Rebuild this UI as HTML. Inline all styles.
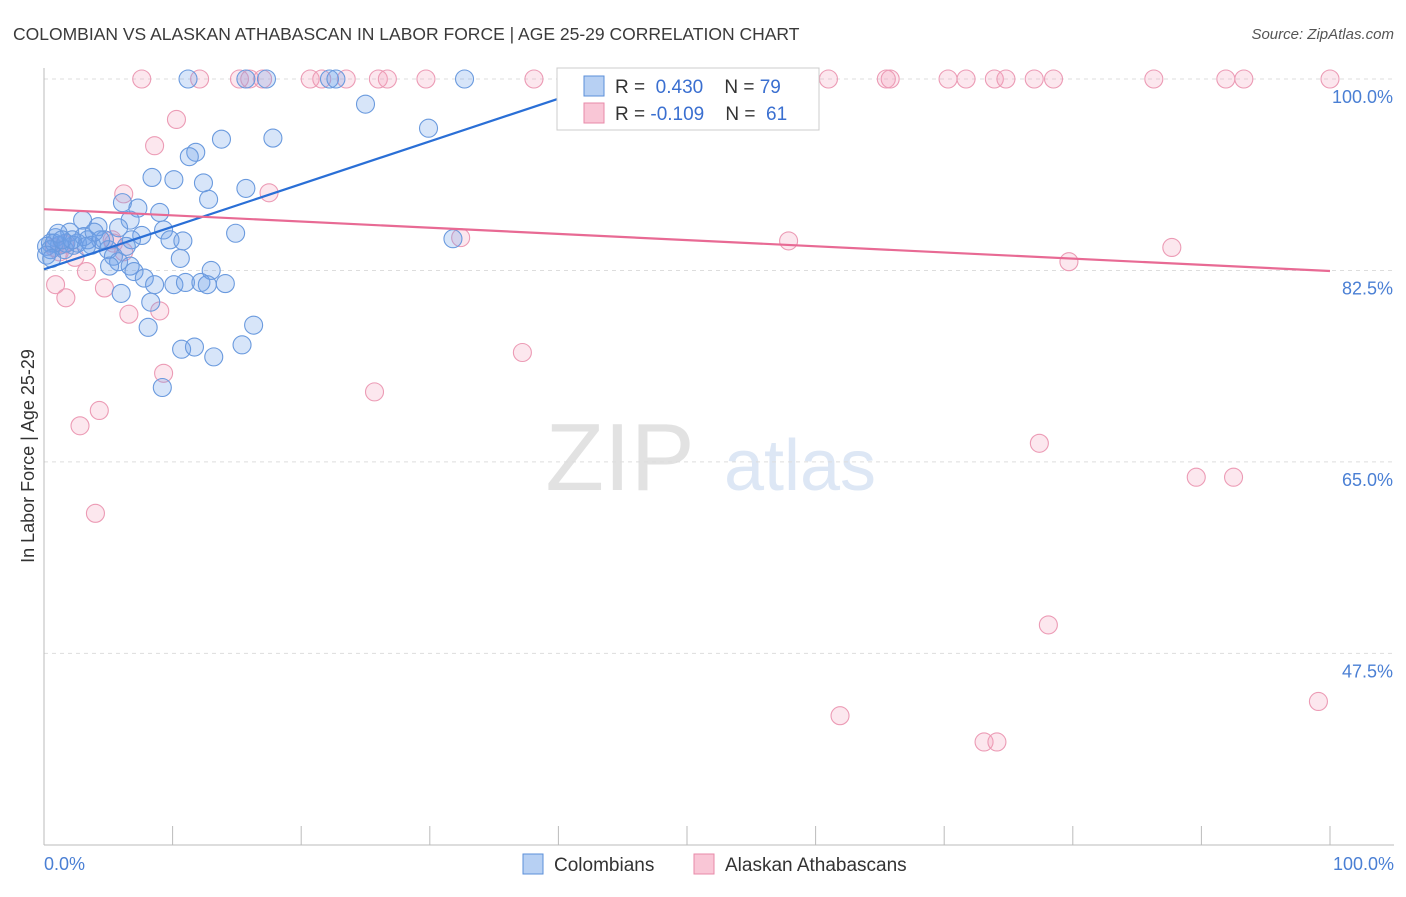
<!DOCTYPE html>
<html><head><meta charset="utf-8"><style>
body{margin:0;background:#fff;font-family:"Liberation Sans",sans-serif}
svg text{font-family:"Liberation Sans",sans-serif}
</style></head><body>
<svg id="chart" width="1406" height="892">
<text x="13" y="40" font-size="17.5" fill="#3a3a3a">COLOMBIAN VS ALASKAN ATHABASCAN IN LABOR FORCE | AGE 25-29 CORRELATION CHART</text>
<text x="1394" y="39" font-size="15" fill="#555" text-anchor="end" font-style="italic">Source: ZipAtlas.com</text>
<text x="620" y="490" font-size="96" fill="#e2e2e2" font-family="Liberation Serif" text-anchor="middle">ZIP</text>
<text x="800" y="490" font-size="72" fill="#dde7f5" text-anchor="middle">atlas</text>
<g id="grid"></g><g id="axes"></g><g id="pts"></g><g id="trend"></g>
<text transform="translate(34,456) rotate(-90)" font-size="18" fill="#333" text-anchor="middle">In Labor Force | Age 25-29</text>
<text x="44" y="870" font-size="18" fill="#4a7fd4">0.0%</text>
<text x="1394" y="870" font-size="18" fill="#4a7fd4" text-anchor="end">100.0%</text>
<g>
<rect x="557" y="68" width="262" height="62" fill="#fff" stroke="#ccc"/>
<rect x="584" y="76" width="20" height="20" fill="#b7d0f3" stroke="#5b8fd9"/>
<rect x="584" y="103" width="20" height="20" fill="#f9c6d6" stroke="#e88aa8"/>
<text x="615" y="93" font-size="19" fill="#333">R = <tspan fill="#3a6fd0">&#160;0.430</tspan>&#160;&#160;&#160; N = <tspan fill="#3a6fd0">79</tspan></text>
<text x="615" y="120" font-size="19" fill="#333">R = <tspan fill="#3a6fd0">-0.109</tspan>&#160;&#160;&#160; N = <tspan fill="#3a6fd0">&#160;61</tspan></text>
</g>
<g>
<rect x="523" y="854" width="20" height="20" fill="#b7d0f3" stroke="#5b8fd9"/>
<text x="554" y="871" font-size="19" fill="#333">Colombians</text>
<rect x="694" y="854" width="20" height="20" fill="#f9c6d6" stroke="#e88aa8"/>
<text x="725" y="871" font-size="19" fill="#333">Alaskan Athabascans</text>
</g>
</svg>
<script>
const yTicks=[100,82.5,65,47.5];
const yTickLabels=["100.0%","82.5%","65.0%","47.5%"];
const blueX=[11.2,15.7,17.3,22.2,22.7,32.7,25.0,29.9,13.8,17.8,11.8,11.3,8.4,10.1,12.4,15.7,12.8,6.1,7.3,9.0,3.0,6.7,4.2,5.8,9.3,14.9,7.6,0.9,2.0,3.4,4.7,6.8,9.8,10.8,1.2,2.3,3.7,0.5,0.2,5.0,0.5,1.6,5.4,10.6,5.8,6.7,5.1,7.0,13.0,7.8,8.6,10.1,11.0,12.2,12.7,14.1,6.0,8.3,16.3,8.1,10.7,11.7,15.4,13.2,9.2,31.8,0.8,1.7,2.6,4.4,3.1,3.9,1.1,0.2,0.6,2.2,1.4,3.3,6.4];
const blueY=[100,100,100,100,100,100,97.7,95.5,94.5,94.6,93.3,92.9,91.0,90.8,90.5,90.0,89.0,88.7,88.2,87.8,87.1,87.1,86.5,86.4,86.2,85.9,85.7,85.5,86.0,85.3,85.3,85.3,85.3,85.2,84.8,84.8,84.8,85.0,84.7,84.4,84.4,84.4,83.8,83.6,83.3,82.9,82.9,82.4,82.5,81.8,81.2,81.2,81.4,81.4,81.2,81.3,80.4,79.6,77.5,77.3,75.3,75.5,75.7,74.6,71.8,85.4,85.0,85.0,85.0,85.3,85.6,86.0,85.9,83.9,83.6,85.3,85.3,84.7,84.7];
const pinkX=[7.6,12.1,15.2,16.0,17.0,20.7,21.6,23.5,26.0,26.7,29.7,38.1,53.0,61.0,65.5,65.8,70.3,71.7,73.9,74.8,77.0,78.5,86.3,91.9,93.3,100,10.3,8.6,6.2,17.5,5.4,6.2,0.8,2.4,1.2,3.3,0.9,4.7,1.7,6.6,9.0,37.2,9.3,25.7,4.3,2.8,4.0,32.4,57.9,87.7,79.7,77.4,89.6,92.5,78.1,61.9,73.1,74.1,99.1,5.3,1.6];
const pinkY=[100,100,100,100,100,100,100,100,100,100,100,100,100,100,100,100,100,100,100,100,100,100,100,100,100,100,96.3,93.9,89.5,89.6,85.0,84.2,84.6,83.7,84.2,82.4,81.2,80.9,80.0,78.5,78.8,75.0,73.1,71.4,69.7,68.3,60.3,85.5,85.2,84.6,83.3,66.7,63.6,63.6,50.1,41.8,39.4,39.4,43.1,85.3,84.9];
const blueTrend=[82.6,0.39];
const pinkTrend=[88.1,-0.0565];
const NS="http://www.w3.org/2000/svg";
const xs=v=>44+v*12.86, ys=v=>79+(100-v)*10.94;
function mk(t,a,p){const e=document.createElementNS(NS,t);for(const k in a)e.setAttribute(k,a[k]);document.getElementById(p).appendChild(e);return e;}
yTicks.forEach((t,i)=>{
 const l=mk('line',{x1:44,x2:1394,y1:ys(t),y2:ys(t),stroke:'#ddd','stroke-dasharray':'4,4'},'grid');
 
 
 const tx=mk('text',{x:1393,y:ys(t)+24,'font-size':18,fill:'#4a7fd4','text-anchor':'end'},'grid');
 tx.textContent=yTickLabels[i];
 
 
});
const ax=mk('line',{x1:44,x2:44,y1:68,y2:845,stroke:'#bbb'},'axes');


const bx=mk('line',{x1:44,x2:1394,y1:845,y2:845,stroke:'#bbb'},'axes');


for(let i=0;i<=10;i++){const t=mk('line',{x1:xs(i*10),x2:xs(i*10),y1:826,y2:845,stroke:'#bbb'},'axes');
 
 }
function pts(X,Y,f,s,n){X.forEach((x,i)=>{const c=mk('circle',{cx:xs(x),cy:ys(Y[i]),r:9,fill:f,stroke:s,'stroke-width':1.1},'pts');
 
 });}
pts(pinkX,pinkY,'rgba(244,160,188,0.25)','#ec9bb5','alaskan-athabascan-point');
pts(blueX,blueY,'rgba(110,160,232,0.28)','#6a9ade','colombian-point');
const bl=mk('line',{x1:xs(0),y1:ys(blueTrend[0]),x2:xs(42.5),y2:ys(blueTrend[0]+blueTrend[1]*42.5),stroke:'#2a6fd6','stroke-width':2.2},'trend');


const pl=mk('line',{x1:xs(0),y1:ys(pinkTrend[0]),x2:xs(100),y2:ys(pinkTrend[0]+pinkTrend[1]*100),stroke:'#e86a94','stroke-width':2.2},'trend');


</script>
</body></html>
